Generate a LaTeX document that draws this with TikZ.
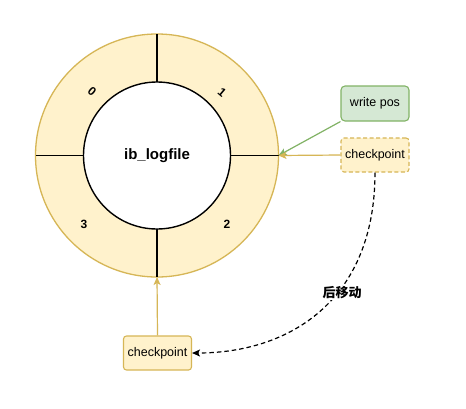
\documentclass[tikz,border=0pt]{standalone}
\usepackage{fontspec}
\setmainfont{Liberation Sans}
\newfontfamily\cjk{Noto Sans CJK SC}
\usetikzlibrary{arrows.meta}
\definecolor{ringfill}{HTML}{FFF2CC}
\definecolor{ringline}{HTML}{D6B656}
\definecolor{posfill}{HTML}{D5E8D4}
\definecolor{posline}{HTML}{82B366}
\tikzset{
  ptr/.style={-{Stealth[length=8pt,width=7pt,inset=2pt]}, line width=1.2pt},
  yellowbox/.style={draw=ringline, fill=ringfill, rounded corners=3pt, line width=1.1pt,
    minimum width=68pt, minimum height=34pt, inner sep=0pt, font=\fontsize{12.5}{14}\selectfont},
  greenbox/.style={draw=posline, fill=posfill, rounded corners=4pt, line width=1.1pt,
    minimum width=68pt, minimum height=35pt, inner sep=0pt, font=\fontsize{12.5}{14}\selectfont},
  seglabel/.style={font=\bfseries\fontsize{12}{14}\selectfont},
  spoke/.style={line width=1.4pt, black}
}
\begin{document}
\begin{tikzpicture}[x=1pt,y=-1pt]
  \useasboundingbox (0,0) rectangle (466,408);
  \fill[white] (0,0) rectangle (466,408);

  % log ring
  \coordinate (c) at (157,155.5);
  \fill[ringfill, draw=ringline, line width=1.3pt] (c) circle[radius=121.5];
  \draw[fill=white, line width=1.4pt] (c) circle[radius=73.5];
  \node[font=\bfseries\fontsize{15}{17}\selectfont] (core) at (c) {ib\_logfile};

  % spokes between the four files
  \coordinate (top) at (157,34);
  \coordinate (bot) at (157,277);
  \coordinate (lft) at (35.5,155.5);
  \coordinate (rgt) at (278.5,155.5);
  \draw[spoke] (top) -- (157,82);
  \draw[spoke] (157,229) -- (bot);
  \draw[spoke] (lft) -- (83.5,155.5);
  \draw[spoke] (230.5,155.5) -- (rgt);

  % file numbers
  \node[seglabel, rotate=-40] (f0) at (92,91) {0};
  \node[seglabel, rotate=-40] (f1) at (222,92) {1};
  \node[seglabel] (f2) at (227,224) {2};
  \node[seglabel] (f3) at (84,224) {3};

  % write position and checkpoints
  \node[greenbox] (wp) at (375,103.5) {write pos};
  \node[yellowbox, dashed, dash pattern=on 4pt off 2.5pt] (cp1) at (375,155) {checkpoint};
  \node[yellowbox] (cp2) at (157.5,353) {checkpoint};

  \draw[ptr, draw=posline, fill=posline] (wp.south west) -- (rgt);
  \draw[ptr, draw=ringline, fill=ringline] (cp1.west) -- (rgt);
  \draw[ptr, draw=ringline, fill=ringline] (cp2.north) -- (bot);

  % checkpoint advancing
  \draw[ptr, black, dashed, dash pattern=on 4.5pt off 3pt, line width=1.2pt]
    (cp1.south) .. controls (375,300) and (290,353) .. (cp2.east);
  \node[fill=white, font=\cjk\bfseries\fontsize{13}{15}\selectfont, inner sep=1pt] (mv) at (342,293) {后移动};
\end{tikzpicture}
\end{document}
